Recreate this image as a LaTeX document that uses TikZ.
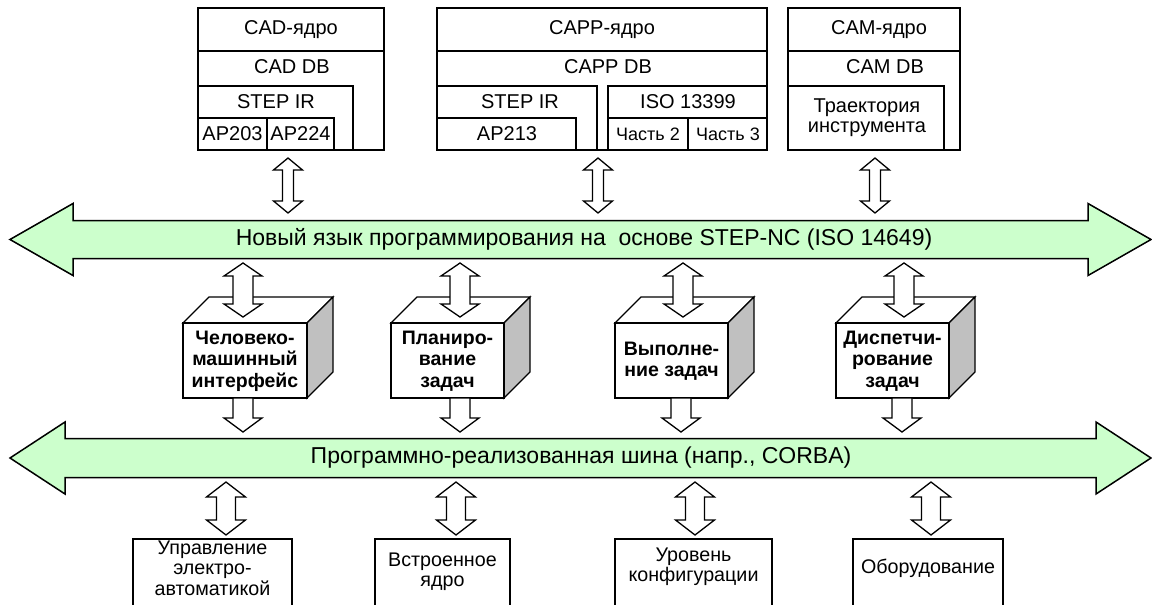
\documentclass[tikz,border=0pt]{standalone}
\usepackage{fontspec}
\setmainfont{Liberation Sans}
\definecolor{busgreen}{HTML}{CCFFCC}
\definecolor{sidegray}{HTML}{C0C0C0}
% vertical double block arrow: x, top tip, bottom tip, head half-width, shaft half-width, head length
\newcommand\vdarrow[6]{%
  \draw[blockarrow] (#1,#2) -- (#1+#4,#2+#6) -- (#1+#5,#2+#6) -- (#1+#5,#3-#6) -- (#1+#4,#3-#6)
    -- (#1,#3) -- (#1-#4,#3-#6) -- (#1-#5,#3-#6) -- (#1-#5,#2+#6) -- (#1-#4,#2+#6) -- cycle;}
% vertical single block arrow pointing down
\newcommand\vsarrow[6]{%
  \draw[blockarrow] (#1-#5,#2) -- (#1+#5,#2) -- (#1+#5,#3-#6) -- (#1+#4,#3-#6) -- (#1,#3)
    -- (#1-#4,#3-#6) -- (#1-#5,#3-#6) -- cycle;}
% horizontal bus arrow: centre y, left tip, right tip, head half, shaft half, head length
\newcommand\hbus[6]{%
  \draw[busarrow] (#2,#1) -- (#2+#6,#1-#4) -- (#2+#6,#1-#5) -- (#3-#6,#1-#5) -- (#3-#6,#1-#4)
    -- (#3,#1) -- (#3-#6,#1+#4) -- (#3-#6,#1+#5) -- (#2+#6,#1+#5) -- (#2+#6,#1+#4) -- cycle;}
% box drawn in perspective: front left, front right, front top, front bottom
\newcommand\cubebox[4]{%
  \draw[cubeline, fill=white] (#1,#3) -- (#1+26,#3-26) -- (#2+26,#3-26) -- (#2,#3) -- cycle;
  \draw[cubeline, fill=sidegray] (#2,#3) -- (#2+26,#3-26) -- (#2+26,#4-26) -- (#2,#4) -- cycle;
  \draw[cubeline, fill=white] (#1,#3) rectangle (#2,#4);}
\tikzset{
  blockarrow/.style={draw=black, fill=white, line width=1.3pt, line join=miter},
  busarrow/.style={draw=black, fill=busgreen, line width=1.5pt, line join=miter},
  cubeline/.style={draw=black, line width=1.3pt, line join=miter},
  boxline/.style={draw=black, line width=1.4pt},
  toptext/.style={font=\fontsize{20}{20}\selectfont, align=center, inner sep=0pt},
  smalltext/.style={font=\fontsize{18}{20}\selectfont, align=center, inner sep=0pt},
  bustext/.style={font=\fontsize{23}{24}\selectfont, inner sep=0pt},
  cubetext/.style={font=\fontsize{19.5}{21.5}\selectfont\bfseries, align=center, inner sep=0pt},
  lowtext/.style={font=\fontsize{19.7}{20.5}\selectfont, align=center, inner sep=0pt},
}
\begin{document}
\begin{tikzpicture}[x=1pt, y=-1pt]
\useasboundingbox (0,0) rectangle (1152,605);
\clip (0,0) rectangle (1152,605);

% ---- CAD block ----
\draw[boxline] (198,8) rectangle (384,150);
\draw[boxline] (198,51) -- (384,51);
\draw[boxline] (198,86) rectangle (353,150);
\draw[boxline] (198,118) -- (334,118) -- (334,150);
\draw[boxline] (267,118) -- (267,150);
\node[toptext] (cadcore) at (291,30) {CAD-ядро};
\node[toptext] (caddb) at (292,67) {CAD DB};
\node[toptext] (cadstep) at (276,102) {STEP IR};
\node[toptext] (ap203) at (232.5,134) {AP203};
\node[toptext] (ap224) at (300.5,134) {AP224};

% ---- CAPP block ----
\draw[boxline] (437,8) rectangle (767,150);
\draw[boxline] (437,51) -- (767,51);
\draw[boxline] (437,86) rectangle (597,150);
\draw[boxline] (437,118) -- (576,118) -- (576,150);
\draw[boxline] (608,86) rectangle (767,150);
\draw[boxline] (608,118) -- (767,118);
\draw[boxline] (688,118) -- (688,150);
\node[toptext] (cappcore) at (602,30) {CAPP-ядро};
\node[toptext] (cappdb) at (608,67) {CAPP DB};
\node[toptext] (cappstep) at (520,102) {STEP IR};
\node[toptext] (ap213) at (507,134) {AP213};
\node[toptext] (iso) at (688,102) {ISO 13399};
\node[smalltext] (part2) at (648,134) {Часть 2};
\node[smalltext] (part3) at (728,134) {Часть 3};

% ---- CAM block ----
\draw[boxline] (788,8) rectangle (960,150);
\draw[boxline] (788,51) -- (960,51);
\draw[boxline] (788,86) rectangle (944,150);
\node[toptext] (camcore) at (879,30) {CAM-ядро};
\node[toptext] (camdb) at (885,67) {CAM DB};
\node[toptext] (toolpath) at (867,118) {Траектория\\инструмента};

% ---- links from the kernels to the language bus ----
\vdarrow{288}{158}{213}{14.5}{5.5}{12}
\vdarrow{598}{158}{213}{14.5}{5.5}{12}
\vdarrow{875}{158}{213}{14.5}{5.5}{12}

% ---- buses ----
\hbus{239.5}{10}{1151}{36}{19}{63}
\node[bustext] (langbus) at (584,239.5) {Новый язык программирования на \ основе STEP-NC (ISO 14649)};
\hbus{458}{10}{1151}{36}{19.5}{55}
\node[bustext] (softbus) at (581,458) {Программно-реализованная шина (напр., CORBA)};

% ---- task modules ----
\cubebox{183}{307}{323}{398}
\cubebox{391}{504}{323}{398}
\cubebox{615}{728}{323}{398}
\cubebox{836}{949}{323}{398}
\node[cubetext] (hmi) at (245,361) {Человеко-\\машинный\\интерфейс};
\node[cubetext] (plan) at (447.5,361) {Планиро-\\вание\\задач};
\node[cubetext] (exec) at (671.5,361) {Выполне-\\ние задач};
\node[cubetext] (disp) at (892.5,361) {Диспетчи-\\рование\\задач};

\vdarrow{243}{263}{317}{19}{10}{13}
\vdarrow{460}{263}{317}{19}{10}{13}
\vdarrow{683}{263}{317}{19}{10}{13}
\vdarrow{904}{263}{317}{19}{10}{13}
\vsarrow{243}{398}{432}{19}{10}{14}
\vsarrow{460}{398}{432}{19}{10}{14}
\vsarrow{681}{398}{432}{19}{10}{14}
\vsarrow{902}{398}{432}{19}{10}{14}

% ---- lower level ----
\vdarrow{226}{482}{535}{19.5}{9.5}{15}
\vdarrow{456}{482}{535}{19.5}{9.5}{15}
\vdarrow{695}{482}{535}{19.5}{9.5}{15}
\vdarrow{931}{482}{535}{19.5}{9.5}{15}

\draw[boxline] (133,612) -- (133,539) -- (292,539) -- (292,612);
\draw[boxline] (375,612) -- (375,539) -- (510,539) -- (510,612);
\draw[boxline] (615,612) -- (615,539) -- (772,539) -- (772,612);
\draw[boxline] (853,612) -- (853,539) -- (1003,539) -- (1003,612);
\node[lowtext] (electro) at (212.5,568) {Управление\\электро-\\автоматикой};
\node[lowtext] (embedded) at (442.5,572) {Встроенное\\ядро};
\node[lowtext] (config) at (693.5,567) {Уровень\\конфигурации};
\node[lowtext] (hardware) at (928,568) {Оборудование};
\end{tikzpicture}
\end{document}
